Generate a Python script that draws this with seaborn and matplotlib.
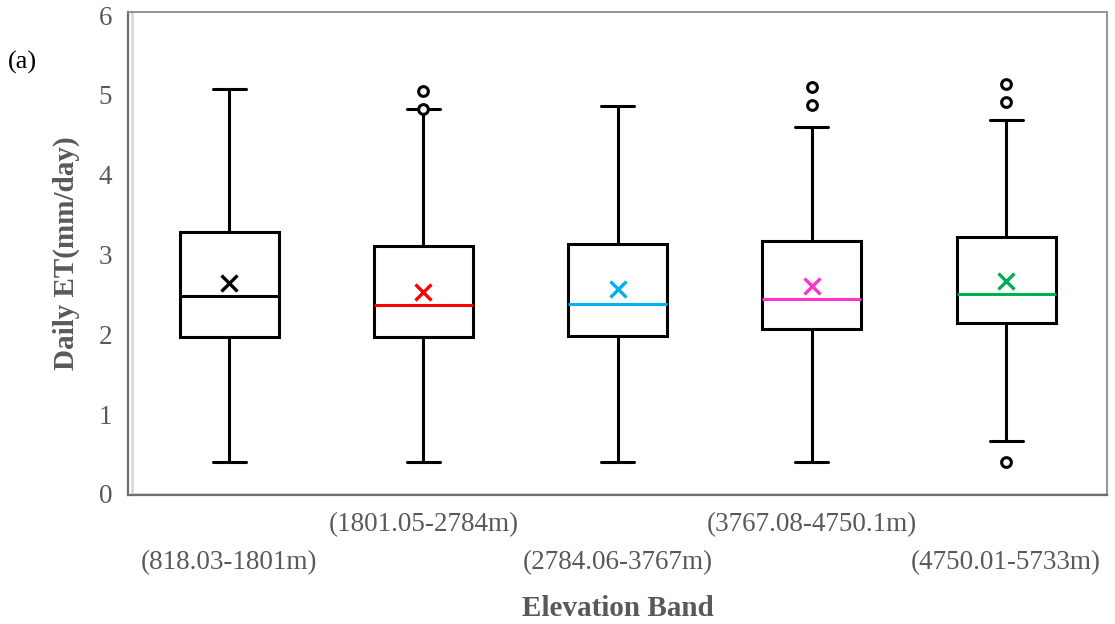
import numpy as np
import pandas as pd
import matplotlib
matplotlib.use("Agg")
import matplotlib.pyplot as plt
import matplotlib.transforms as mtrans
import seaborn as sns

# ---- data ----
bands = ["(818.03-1801m)", "(1801.05-2784m)", "(2784.06-3767m)",
         "(3767.08-4750.1m)", "(4750.01-5733m)"]
whisker_low = [0.40, 0.40, 0.40, 0.40, 0.66]
q1 = [1.96, 1.97, 1.98, 2.07, 2.14]
median = [2.48, 2.37, 2.38, 2.44, 2.51]
q3 = [3.28, 3.11, 3.13, 3.17, 3.22]
whisker_high = [5.07, 4.82, 4.86, 4.60, 4.69]
means = [2.64, 2.53, 2.57, 2.60, 2.67]
outlier_band = ["(1801.05-2784m)", "(1801.05-2784m)",
                "(3767.08-4750.1m)", "(3767.08-4750.1m)",
                "(4750.01-5733m)", "(4750.01-5733m)", "(4750.01-5733m)"]
outlier_val = [5.05, 4.82, 5.10, 4.87, 5.13, 4.91, 0.40]
colors = ["#000000", "#FF0000", "#00B0F0", "#FF33CC", "#00B050"]

# long table of five-number summaries (percentiles of 5 values reproduce them)
rows = []
for b, lo, a, m, c, hi in zip(bands, whisker_low, q1, median, q3, whisker_high):
    for v in (lo, a, m, c, hi):
        rows.append({"band": b, "val": v})
df = pd.DataFrame(rows)
df_mean = pd.DataFrame({"band": bands, "val": means})
df_out = pd.DataFrame({"band": outlier_band, "val": outlier_val})

sns.set_theme(style="white")
plt.rcParams["font.family"] = ["Liberation Serif", "DejaVu Serif"]

fig = plt.figure(figsize=(11.15, 6.24), dpi=100)
ax = fig.add_axes([0.115, 0.206, 0.878, 0.775])

sns.boxplot(data=df, x="band", y="val", order=bands, whis=(0, 100),
            showfliers=False, width=0.51, color="white", linecolor="black",
            linewidth=2.2, ax=ax)

# colour medians per box and shorten caps
meds, caps = [], []
for cont in ax.containers:
    if hasattr(cont, "medians"):
        meds.extend(cont.medians)
        caps.extend(cont.caps)
for line, c in zip(meds, colors):
    line.set_color(c)
    line.set_linewidth(2.2)
for cap in caps:
    xd = np.asarray(cap.get_xdata(), dtype=float)
    cx = xd.mean()
    cap.set_xdata([cx - 0.085, cx + 0.085])

# means
sns.pointplot(data=df_mean, x="band", y="val", order=bands, hue="band",
              hue_order=bands, palette=colors, markers="x", linestyles="none",
              errorbar=None, markersize=12, markeredgewidth=2.4, legend=False,
              ax=ax)

# outliers
sns.stripplot(data=df_out, x="band", y="val", order=bands, jitter=False,
              color="white", edgecolor="black", linewidth=2.2, size=7,
              ax=ax, zorder=5)

ax.set_ylim(-0.02, 6.04)
ax.set_xlim(-0.52, 4.52)
ax.set_yticks([0, 1, 2, 3, 4, 5, 6])
ax.set_yticklabels(["0", "1", "2", "3", "4", "5", "6"])
ax.tick_params(axis="both", length=0, labelsize=19.5, colors="#595959")
ax.tick_params(axis="y", pad=11.5)
ax.tick_params(axis="x", pad=12)

# stagger x tick labels
for i, lab in enumerate(ax.get_xticklabels()):
    if i % 2 == 0:
        lab.set_transform(lab.get_transform() +
                          mtrans.ScaledTranslation(0, -0.38, fig.dpi_scale_trans))

ax.set_xlabel("Elevation Band", fontsize=21, fontweight="bold", color="#595959",
              labelpad=0)
ax.xaxis.set_label_coords(0.5, -0.205)
ax.set_ylabel("Daily ET(mm/day)", fontsize=21, fontweight="bold", color="#595959")
ax.yaxis.set_label_coords(-0.049, 0.5)

for s in ["left", "bottom"]:
    ax.spines[s].set_color("#6f6f6f")
    ax.spines[s].set_linewidth(1.6)
for s in ["top", "right"]:
    ax.spines[s].set_color("#8a8a8a")
    ax.spines[s].set_linewidth(1.3)
# light inner shadow along left and bottom frame
ax.plot([0.004, 0.004], [0.004, 1.0], transform=ax.transAxes, color="#d9d9d9",
        lw=2, clip_on=False, zorder=0.5)
ax.plot([0.004, 1.0], [0.004, 0.004], transform=ax.transAxes, color="#d9d9d9",
        lw=2, clip_on=False, zorder=0.5)

fig.text(0.007, 0.9, "(a)", fontsize=19, color="black", ha="left", va="center")

fig.savefig("out.png", dpi=100)
